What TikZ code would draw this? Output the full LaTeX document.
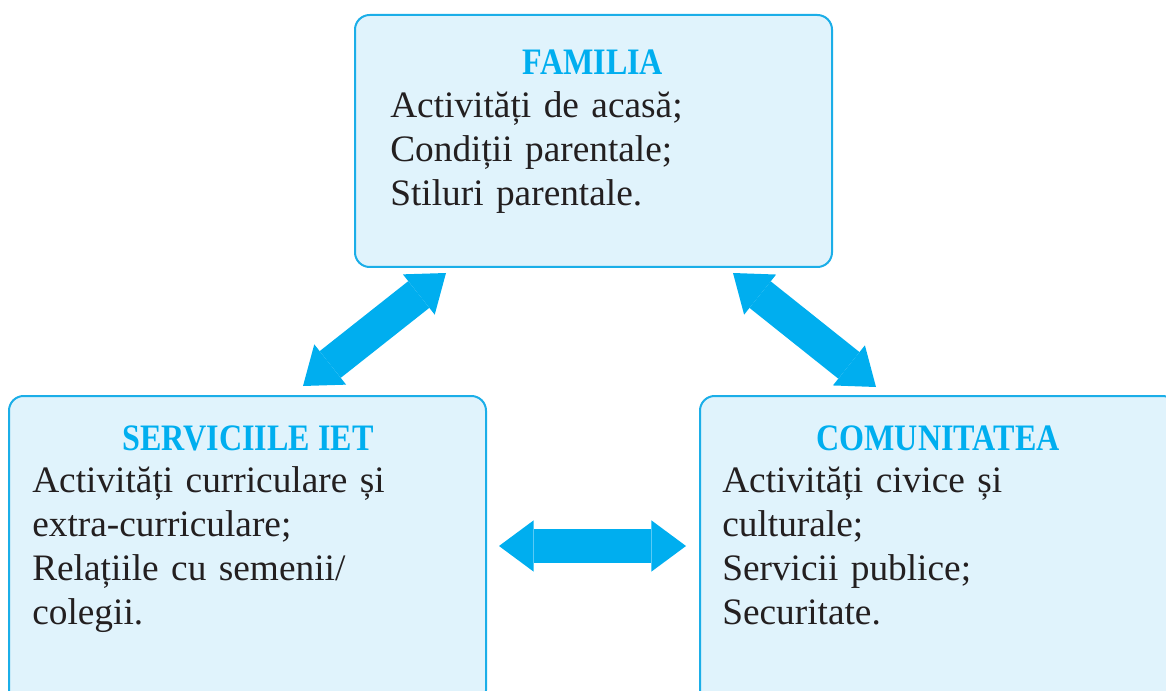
\documentclass[tikz,border=0pt]{standalone}
\usepackage{graphicx}
\usepackage{fontspec}
\setmainfont{Liberation Serif}
\usetikzlibrary{arrows.meta}
\definecolor{boxline}{HTML}{1BAEE8}
\definecolor{boxfill}{HTML}{E0F3FC}
\definecolor{titleblue}{HTML}{00AEEF}
\definecolor{arrowblue}{HTML}{00AEEF}
\definecolor{bodytext}{HTML}{231F20}
\newcommand{\paneltitle}[1]{\textbf{\scalebox{0.86}[1]{#1}}}

\begin{document}
\begin{tikzpicture}[x=0.75pt,y=-0.75pt,
  panel/.style={draw=boxline, fill=boxfill, line width=1.5pt, rounded corners=11pt,
    minimum width=357.75pt, inner sep=0pt},
  paneltop/.style={font=\fontsize{28}{33}\selectfont, text=titleblue, anchor=base, inner sep=0pt},
  panelbody/.style={font=\fontsize{28}{33}\selectfont, text=bodytext, text width=340pt,
    align=left, anchor=base west, inner sep=0pt},
  linkarrow/.style={draw=arrowblue, line width=25.5pt,
    {Triangle[width=38.5pt,length=26pt,line width=0pt]}-{Triangle[width=38.5pt,length=26pt,line width=0pt]}}
]
\useasboundingbox (0,0) rectangle (1166,691);
\clip (0,0) rectangle (1166,691);

% boxes
\node[panel, minimum height=189pt] (familia) at (593.5,141) {};
\node[panel, minimum height=231.75pt] (servicii) at (247.5,550.5) {};
\node[panel, minimum height=231.75pt] (comunitate) at (938.5,550.5) {};

% titles
\node[paneltop] (familiaT) at (593,75) {\paneltitle{FAMILIA}};
\node[paneltop] (serviciiT) at (248,450) {\paneltitle{SERVICIILE IET}};
\node[paneltop] (comunitateT) at (938,450) {\paneltitle{COMUNITATEA}};

% texts
\node[panelbody] (familiaB) at (390,118) {Activități de acasă;\\ Condiții parentale;\\ Stiluri parentale.};
\node[panelbody] (serviciiB) at (32,492) {Activități curriculare și\\ extra-curriculare;\\ Relațiile cu semenii/\\ colegii.};
\node[panelbody] (comunitateB) at (722,492) {Activități civice și\\ culturale;\\ Servicii publice;\\ Securitate.};

% arrows
\coordinate (familiaL) at (446,273);
\coordinate (familiaR) at (733,273);
\coordinate (serviciiU) at (303,386);
\coordinate (serviciiR) at (499,546);
\coordinate (comunitateU) at (876,387);
\coordinate (comunitateL) at (686,546);
\draw[linkarrow] (serviciiU) -- (familiaL);
\draw[linkarrow] (familiaR) -- (comunitateU);
\draw[linkarrow] (serviciiR) -- (comunitateL);
\end{tikzpicture}
\end{document}
